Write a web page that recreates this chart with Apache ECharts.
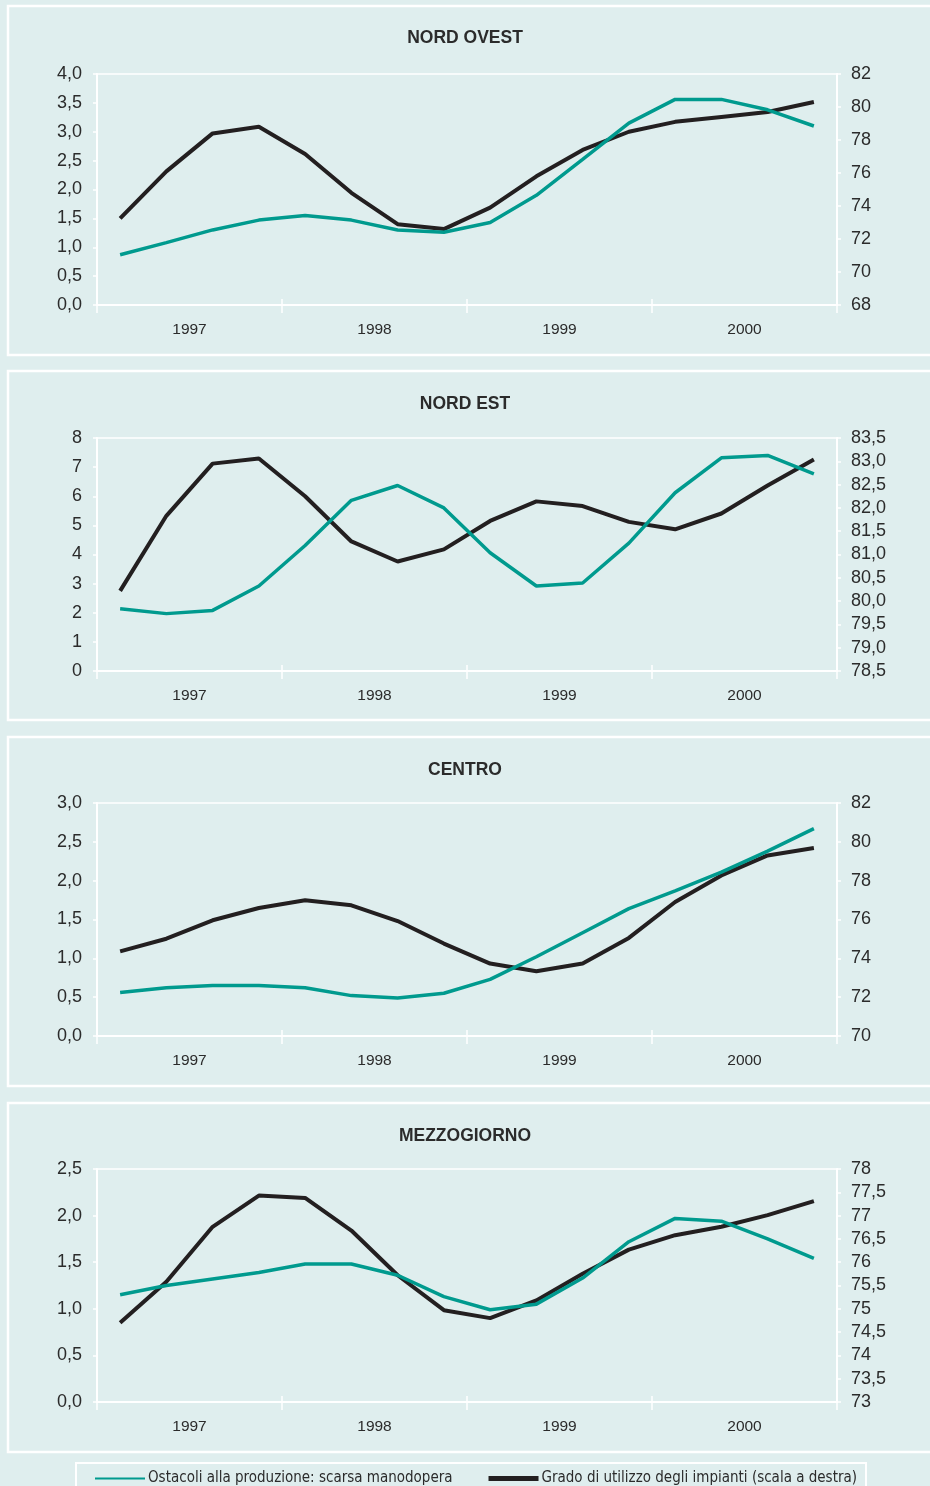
<!DOCTYPE html>
<html>
<head>
<meta charset="utf-8">
<script src="https://cdn.jsdelivr.net/npm/echarts@6/dist/echarts.min.js"></script>
<style>
  html, body { margin: 0; padding: 0; background: #dfeeee; }
  #chart { width: 930px; height: 1486px; }
</style>
</head>
<body>
<div id="chart"></div>
<script>
// quarters 1997-2000, labels only per year
var quarters = ['1997 I','1997 II','1997 III','1997 IV','1998 I','1998 II','1998 III','1998 IV',
                '1999 I','1999 II','1999 III','1999 IV','2000 I','2000 II','2000 III','2000 IV'];
var years = ['1997', '1998', '1999', '2000'];

var regions = ['NORD OVEST', 'NORD EST', 'CENTRO', 'MEZZOGIORNO'];
var seriesNames = ['Ostacoli alla produzione: scarsa manodopera', 'Grado di utilizzo degli impianti (scala a destra)'];

// Ostacoli alla produzione: scarsa manodopera (scala a sinistra)
var nordOvestOstacoli = [0.87, 1.08, 1.30, 1.47, 1.55, 1.47, 1.30, 1.26, 1.43, 1.90, 2.52, 3.15, 3.56, 3.56, 3.38, 3.10];
var nordEstOstacoli   = [2.14, 1.97, 2.08, 2.92, 4.31, 5.86, 6.37, 5.60, 4.06, 2.92, 3.02, 4.39, 6.12, 7.32, 7.40, 6.77];
var centroOstacoli    = [0.56, 0.62, 0.65, 0.65, 0.62, 0.52, 0.49, 0.55, 0.73, 1.02, 1.33, 1.64, 1.87, 2.11, 2.38, 2.67];
var mezzOstacoli      = [1.15, 1.25, 1.32, 1.39, 1.48, 1.48, 1.36, 1.13, 0.99, 1.05, 1.33, 1.72, 1.97, 1.94, 1.75, 1.54];

// Grado di utilizzo degli impianti (scala a destra)
var nordOvestGrado = [73.25, 76.1, 78.4, 78.8, 77.15, 74.8, 72.9, 72.6, 73.9, 75.8, 77.4, 78.5, 79.1, 79.4, 79.7, 80.3];
var nordEstGrado   = [80.22, 81.83, 82.95, 83.06, 82.25, 81.28, 80.85, 81.11, 81.72, 82.14, 82.04, 81.70, 81.54, 81.88, 82.48, 83.04];
var centroGrado    = [74.36, 75.01, 75.96, 76.59, 76.99, 76.73, 75.92, 74.76, 73.73, 73.33, 73.73, 75.05, 76.90, 78.27, 79.30, 79.68];
var mezzGrado      = [74.70, 75.58, 76.76, 77.43, 77.38, 76.68, 75.72, 74.97, 74.80, 75.18, 75.75, 76.27, 76.58, 76.76, 77.01, 77.31];

// axis scales [min, max, interval]
var leftScales  = [[0, 4, 0.5], [0, 8, 1], [0, 3, 0.5], [0, 2.5, 0.5]];
var rightScales = [[68, 82, 2], [78.5, 83.5, 0.5], [70, 82, 2], [73, 78, 0.5]];

var ostacoli = [nordOvestOstacoli, nordEstOstacoli, centroOstacoli, mezzOstacoli];
var grado = [nordOvestGrado, nordEstGrado, centroGrado, mezzGrado];

function fixed1(v) { return v.toFixed(1).replace('.', ','); }
function intLabel(v) { return String(Math.round(v)); }
function plain(v) { return String(v).replace('.', ','); }
var leftFmt = [fixed1, intLabel, fixed1, fixed1];
var rightFmt = [intLabel, fixed1, intLabel, plain];

// layout of the four panels
var panelTop = [6, 371, 737, 1103];
var gridTop = [74, 438, 803, 1169];
var gridHeight = [231, 233, 233, 233];
var titleTop = [24, 390, 756, 1122];

var TEAL = '#009a8e';
var BLACK = '#231f20';
var TEXT = '#2b2b2b';
var FONT = "'Liberation Sans', Arial, sans-serif";

var chart = echarts.init(document.getElementById('chart'));

var option = {
    animation: false,
    backgroundColor: '#dfeeee',
    textStyle: { fontFamily: FONT },
    title: [],
    grid: [],
    xAxis: [],
    yAxis: [],
    series: [],
    legend: {
        left: 90,
        top: 1466,
        itemWidth: 50,
        itemHeight: 6,
        itemGap: 36,
        data: [
            { name: seriesNames[0], icon: 'path://M0,0H50V2H0Z' },
            { name: seriesNames[1], icon: 'path://M0,0H50V5H0Z' }
        ],
        textStyle: { fontFamily: "'Liberation Sans Narrow', 'DejaVu Sans Condensed', Arial, sans-serif", fontSize: 15, color: TEXT, padding: [0, 0, 0, -2] }
    },
    graphic: []
};

for (var k = 0; k < 4; k++) {
    option.graphic.push({
        type: 'rect',
        shape: { x: 8, y: panelTop[k], width: 940, height: 349 },
        style: { fill: 'none', stroke: '#ffffff', lineWidth: 2.5 },
        silent: true
    });

    option.title.push({
        text: regions[k],
        left: 'center',
        top: titleTop[k],
        textStyle: { fontFamily: FONT, fontSize: 17.5, fontWeight: 'bold', color: TEXT }
    });

    option.grid.push({
        left: 97,
        right: 93,
        top: gridTop[k],
        height: gridHeight[k],
        show: true,
        borderColor: '#ffffff',
        borderWidth: 1.5,
        backgroundColor: 'transparent'
    });

    // hidden quarterly axis carrying the data
    option.xAxis.push({
        type: 'category',
        gridIndex: k,
        data: quarters,
        boundaryGap: true,
        show: false
    });
    // visible yearly axis
    option.xAxis.push({
        type: 'category',
        gridIndex: k,
        data: years,
        boundaryGap: true,
        position: 'bottom',
        axisLine: { lineStyle: { color: '#ffffff', width: 2 } },
        axisTick: { show: true, length: 8, interval: 0, lineStyle: { color: '#ffffff', width: 1.5 } },
        axisLabel: { margin: 17, fontSize: 15.5, color: TEXT, fontFamily: FONT },
        splitLine: { show: false }
    });
    // inside half of the crossing ticks
    option.xAxis.push({
        type: 'category',
        gridIndex: k,
        data: years,
        boundaryGap: true,
        position: 'bottom',
        axisLine: { show: false },
        axisTick: { show: true, inside: true, length: 6, interval: 0, lineStyle: { color: '#ffffff', width: 1.5 } },
        axisLabel: { show: false },
        splitLine: { show: false }
    });

    option.yAxis.push({
        type: 'value',
        gridIndex: k,
        position: 'left',
        min: leftScales[k][0],
        max: leftScales[k][1],
        interval: leftScales[k][2],
        axisLine: { show: true, lineStyle: { color: '#ffffff', width: 2 } },
        axisTick: { show: true, length: 4, lineStyle: { color: '#ffffff', width: 1.5 } },
        axisLabel: { margin: 15, fontSize: 18, color: TEXT, fontFamily: FONT, formatter: leftFmt[k] },
        splitLine: { show: false }
    });
    option.yAxis.push({
        type: 'value',
        gridIndex: k,
        position: 'right',
        min: rightScales[k][0],
        max: rightScales[k][1],
        interval: rightScales[k][2],
        axisLine: { show: true, lineStyle: { color: '#ffffff', width: 2 } },
        axisTick: { show: true, length: 4, lineStyle: { color: '#ffffff', width: 1.5 } },
        axisLabel: { margin: 14, fontSize: 18, color: TEXT, fontFamily: FONT, formatter: rightFmt[k] },
        splitLine: { show: false }
    });

    option.series.push({
        name: seriesNames[1],
        type: 'line',
        xAxisIndex: 3 * k,
        yAxisIndex: 2 * k + 1,
        data: grado[k],
        symbol: 'none',
        color: BLACK,
        lineStyle: { color: BLACK, width: 4 },
        z: 3
    });
    option.series.push({
        name: seriesNames[0],
        type: 'line',
        xAxisIndex: 3 * k,
        yAxisIndex: 2 * k,
        data: ostacoli[k],
        symbol: 'none',
        color: TEAL,
        lineStyle: { color: TEAL, width: 3.5 },
        z: 4
    });
}

// legend frame
option.graphic.push({
    type: 'rect',
    shape: { x: 76, y: 1463, width: 790, height: 40 },
    style: { fill: 'none', stroke: '#ffffff', lineWidth: 2 },
    silent: true
});

chart.setOption(option);
</script>
</body>
</html>
